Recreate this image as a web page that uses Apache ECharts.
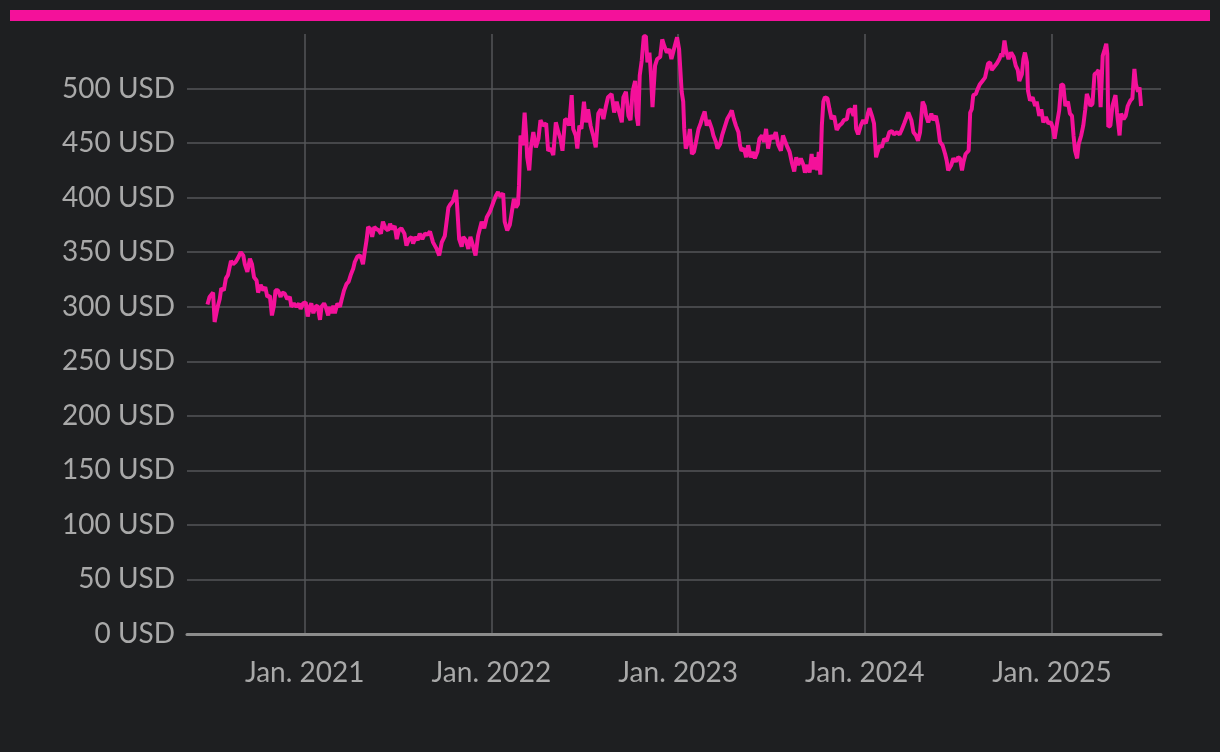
<!DOCTYPE html>
<html><head><meta charset="utf-8">
<script src="https://cdn.jsdelivr.net/npm/echarts@6/dist/echarts.min.js"></script>
<style>html,body{margin:0;padding:0;background:#1e1f21}#c{width:1220px;height:752px}</style>
</head><body><div id="c"></div>
<script>
// first observation date; each point is [days after startDate, price in USD]
const startDate = '2020-06-25';
const axisStart = '2020-05-16';
const axisEnd = '2025-08-02';
const yMin = 0, yMax = 550, yStep = 50;
const unitLabel = ' USD';
const xLabelPrefix = 'Jan. ';

const prices2020 = [[0,302],[4,309],[11,313],[14,286],[20,300],[24,307],[27,317],[32,315],[36,326],[40,329],[46,342],[50,339],[55,341],[60,345],[65,350],[70,347],[73,339],[78,332],[83,344],[87,339],[91,327],[96,324],[99,313],[104,320],[109,315],[113,318],[117,309],[122,310],[126,292],[130,301],[133,315],[138,315],[143,309],[146,313],[151,312],[156,307],[161,309],[164,300],[169,303],[174,300],[179,303],[182,298],[187,303],[192,304],[196,291],[200,300],[203,303],[207,294],[211,300],[215,301],[220,288],[223,300],[228,303],[231,300],[236,292],[239,300],[243,294],[246,301],[249,294],[254,303],[259,300],[262,306],[267,315],[272,321],[276,323],[280,329],[285,335],[288,341],[293,346],[298,347],[301,344],[304,339],[308,352],[311,361],[314,373],[319,371],[322,364],[326,373],[331,371],[335,370],[339,367],[343,378],[348,372],[353,370],[357,376],[361,371],[366,374],[370,362],[374,370],[379,372],[385,367],[389,356],[394,362],[399,364],[402,358],[407,364],[411,361],[415,367],[420,362],[425,367],[430,366]];
const prices2021 = [[435,369],[441,359],[448,353],[453,347],[458,359],[464,365],[471,391],[475,394],[480,397],[486,407],[488,393],[492,362],[497,355],[500,364],[505,361],[510,353],[514,364],[519,356],[524,347],[529,365],[536,378],[541,372],[546,382],[552,387],[559,396],[564,402],[568,405],[573,401],[578,404],[581,378],[586,370],[591,375],[595,387],[599,399],[603,391],[607,394],[609,411],[612,457],[616,448],[620,478],[623,457],[625,437],[629,425],[632,445],[637,460],[642,446],[647,454],[651,471],[656,466],[662,468],[666,443],[671,445],[676,439],[681,469],[686,460],[690,454],[694,443],[699,472],[703,471],[707,466],[712,494],[715,463],[720,457],[723,445],[727,466],[731,463],[736,488],[740,469],[744,481],[749,466],[754,457],[759,446],[764,477],[769,481],[774,472],[779,484],[783,492],[790,495],[795,478],[800,488],[805,478],[810,469],[813,492],[818,497],[823,475],[827,471],[831,497],[836,507],[839,475],[842,466],[845,512],[849,526],[853,548],[857,548],[860,524],[864,533],[867,512],[870,483],[875,521],[879,527],[885,529],[889,545],[893,539],[898,533],[903,536],[907,527],[914,540]];
const prices2023 = [[918,547],[922,536],[927,497],[930,488],[932,463],[935,445],[940,452],[943,463],[947,440],[951,442],[955,451],[960,463],[964,468],[968,474],[972,479],[976,466],[980,471],[986,463],[989,457],[994,451],[997,445],[1002,449],[1006,457],[1012,466],[1016,472],[1022,477],[1025,480],[1029,472],[1033,466],[1038,460],[1041,448],[1044,443],[1049,445],[1053,437],[1057,448],[1062,437],[1066,442],[1070,436],[1075,442],[1079,454],[1084,457],[1088,451],[1092,463],[1096,445],[1101,457],[1106,454],[1111,460],[1116,448],[1121,443],[1125,457],[1129,452],[1134,446],[1138,442],[1142,433],[1147,424],[1151,437],[1155,430],[1160,436],[1165,430],[1168,423],[1173,430],[1177,423],[1181,440],[1184,426],[1189,437],[1192,425],[1195,442],[1198,421],[1201,466],[1204,488],[1207,492],[1212,491],[1216,481],[1220,472],[1225,475],[1230,462],[1235,466],[1240,468],[1244,471],[1250,472],[1253,480],[1258,481],[1263,475],[1266,485],[1268,463],[1272,458],[1277,466],[1282,471],[1287,468],[1291,477],[1294,482],[1299,475],[1303,468],[1307,437],[1310,442],[1314,448],[1318,446],[1323,454],[1328,452],[1333,460],[1338,461],[1342,458],[1348,460],[1353,458],[1357,462],[1362,468]];
const prices2024 = [[1370,478],[1376,471],[1380,460],[1385,457],[1389,452],[1393,460],[1398,488],[1402,484],[1405,475],[1409,469],[1415,477],[1419,471],[1424,475],[1428,466],[1432,451],[1437,448],[1442,440],[1445,434],[1448,425],[1454,430],[1458,436],[1463,433],[1467,437],[1471,436],[1475,425],[1478,433],[1482,440],[1488,443],[1491,478],[1494,481],[1497,494],[1502,495],[1506,500],[1510,504],[1515,507],[1520,510],[1526,523],[1530,524],[1533,517],[1538,520],[1543,523],[1548,527],[1552,532],[1554,529],[1558,544],[1561,535],[1566,527],[1571,533],[1576,529],[1580,521],[1584,517],[1587,507],[1592,513],[1595,527],[1598,533],[1602,524],[1604,498],[1608,489],[1613,492],[1618,484],[1621,488],[1626,475],[1630,481],[1634,469],[1639,474],[1644,468],[1649,469],[1653,463],[1656,454],[1660,466],[1665,480],[1669,504],[1673,503],[1677,484],[1682,488],[1686,477],[1690,475],[1693,457],[1696,443],[1700,436],[1703,449],[1708,457],[1712,466],[1716,481],[1719,495],[1722,491],[1726,484],[1730,486],[1734,513],[1739,515],[1742,517],[1746,483],[1750,530],[1754,536],[1757,541],[1759,532],[1761,465],[1765,466],[1769,484],[1775,494],[1778,478],[1783,457],[1786,477],[1791,472],[1795,475],[1799,484],[1804,489],[1808,491],[1812,518],[1815,504],[1819,497],[1822,501],[1825,484]];

const DAY = 86400000;
const t0 = new Date(startDate + 'T00:00:00').getTime();
const seriesData = [].concat(prices2020, prices2021, prices2023, prices2024)
  .map(p => [t0 + p[0] * DAY, p[1]]);

const PINK = '#f4119a';
const TEXT = '#a9a9a9';
const GRID = '#555658';
const FONT = 'Lato, "Noto Sans", sans-serif';

const chart = echarts.init(document.getElementById('c'), null, {renderer: 'canvas'});
chart.setOption({
  backgroundColor: '#1e1f21',
  animation: false,
  graphic: [{type: 'rect', left: 10, top: 10, shape: {width: 1200, height: 11}, style: {fill: PINK}}],
  grid: {left: 187, right: 59, top: 34, bottom: 118, containLabel: false},
  xAxis: {
    type: 'time',
    min: new Date(axisStart + 'T00:00:00').getTime(),
    max: new Date(axisEnd + 'T00:00:00').getTime(),
    minInterval: 365 * DAY,
    maxInterval: 366 * DAY,
    axisLine: {show: true, lineStyle: {color: '#8c8c8c', width: 3}},
    axisTick: {show: false},
    splitLine: {show: true, showMinLine: false, showMaxLine: false, lineStyle: {color: GRID, width: 1.5}},
    axisLabel: {
      color: TEXT, fontSize: 28, fontFamily: FONT, margin: 25,
      showMinLabel: false, showMaxLabel: false,
      formatter: function (v) {
        const d = new Date(v);
        if (d.getMonth() === 0 && d.getDate() === 1) return xLabelPrefix + d.getFullYear();
        return '';
      }
    }
  },
  yAxis: {
    type: 'value', min: yMin, max: yMax, interval: yStep,
    axisLine: {show: false}, axisTick: {show: false},
    splitLine: {show: true, showMaxLine: false, lineStyle: {color: GRID, width: 1.5}},
    axisLabel: {color: TEXT, fontSize: 28, fontFamily: FONT, margin: 12, showMaxLabel: false,
      formatter: function (v) { return v + unitLabel; }}
  },
  series: [{
    type: 'line', data: seriesData, showSymbol: false, symbol: 'none',
    lineStyle: {color: PINK, width: 4}, itemStyle: {color: PINK}
  }]
});
</script></body></html>
